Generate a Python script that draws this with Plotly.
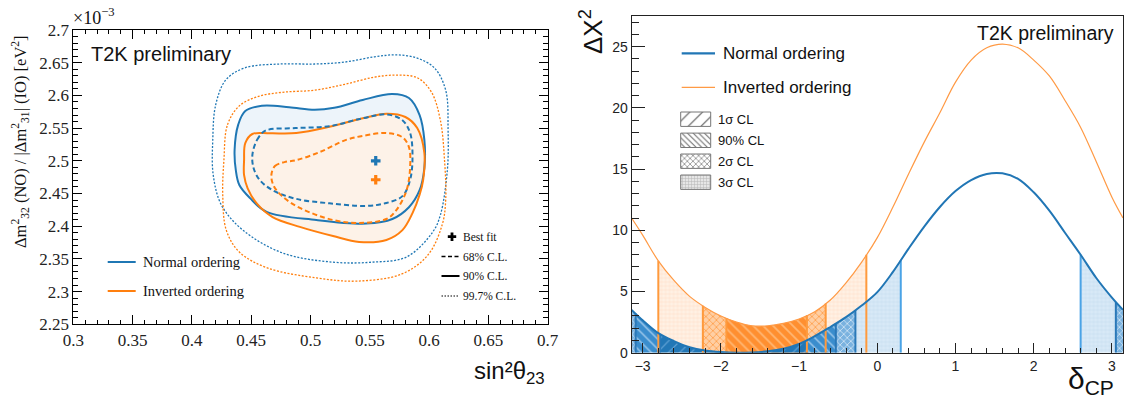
import numpy as np
import plotly.graph_objects as go

W, H = 1124, 400

# ---------------- Left panel data (sin^2 theta23 , dm^2 in 1e-3 eV^2) ----------------
no_997_x = [0.4176, 0.420, 0.4285, 0.4445, 0.474, 0.5035, 0.529, 0.554, 0.5725, 0.590, 0.6045, 0.614,
            0.616, 0.6154, 0.6095, 0.603, 0.581, 0.552, 0.519, 0.4765, 0.443, 0.425, 0.418]
no_997_y = [2.532, 2.585, 2.6235, 2.642, 2.648, 2.648, 2.651, 2.659, 2.662, 2.657, 2.642, 2.608,
            2.547, 2.486, 2.417, 2.391, 2.353, 2.345, 2.345, 2.359, 2.394, 2.432, 2.478]
io_997_x = [0.427, 0.430, 0.440, 0.457, 0.478, 0.5035, 0.529, 0.554, 0.5725, 0.590, 0.602, 0.6095,
            0.613, 0.614, 0.611, 0.599, 0.577, 0.539, 0.505, 0.464, 0.440, 0.429, 0.426]
io_997_y = [2.501, 2.555, 2.584, 2.599, 2.605, 2.608, 2.617, 2.628, 2.631, 2.627, 2.605, 2.562,
            2.501, 2.440, 2.402, 2.356, 2.327, 2.316, 2.321, 2.336, 2.3605, 2.394, 2.448]
no_90_x = [0.436, 0.439, 0.445, 0.459, 0.482, 0.5035, 0.520, 0.544, 0.569, 0.583, 0.592, 0.596,
           0.596, 0.592, 0.583, 0.569, 0.547, 0.505, 0.463, 0.449, 0.440, 0.437]
no_90_y = [2.5165, 2.555, 2.576, 2.584, 2.582, 2.578, 2.581, 2.593, 2.602, 2.596, 2.570, 2.532,
           2.489, 2.455, 2.429, 2.411, 2.404, 2.4095, 2.422, 2.443, 2.463, 2.486]
io_90_x = [0.444, 0.445, 0.451, 0.466, 0.488, 0.516, 0.544, 0.564, 0.580, 0.590, 0.596, 0.595,
           0.592, 0.586, 0.5775, 0.564, 0.541, 0.519, 0.491, 0.468, 0.455, 0.447, 0.444]
io_90_y = [2.501, 2.527, 2.541, 2.542, 2.5425, 2.552, 2.565, 2.572, 2.567, 2.550, 2.512, 2.471,
           2.448, 2.420, 2.394, 2.379, 2.376, 2.385, 2.399, 2.414, 2.434, 2.458, 2.478]
no_68_x = [0.451, 0.455, 0.462, 0.4875, 0.516, 0.544, 0.564, 0.5775, 0.584, 0.586, 0.584, 0.5775,
           0.564, 0.547, 0.516, 0.4875, 0.468, 0.457, 0.452]
no_68_y = [2.509, 2.532, 2.546, 2.550, 2.553, 2.565, 2.571, 2.562, 2.5425, 2.506, 2.471, 2.446,
           2.4355, 2.431, 2.435, 2.442, 2.455, 2.471, 2.489]
io_68_x = [0.467, 0.470, 0.478, 0.488, 0.508, 0.530, 0.547, 0.564, 0.5775, 0.583, 0.584, 0.581,
           0.5725, 0.564, 0.541, 0.519, 0.491, 0.476, 0.469]
io_68_y = [2.478, 2.492, 2.498, 2.501, 2.5135, 2.532, 2.539, 2.5425, 2.536, 2.521, 2.4905, 2.455,
           2.425, 2.411, 2.405, 2.4095, 2.428, 2.446, 2.4615]
bestfit_no = (0.555, 2.500)
bestfit_io = (0.555, 2.471)

left_xticks = [0.3, 0.35, 0.4, 0.45, 0.5, 0.55, 0.6, 0.65, 0.7]
left_xtext = ["0.3", "0.35", "0.4", "0.45", "0.5", "0.55", "0.6", "0.65", "0.7"]
left_yticks = [2.25, 2.3, 2.35, 2.4, 2.45, 2.5, 2.55, 2.6, 2.65, 2.7]
left_ytext = ["2.25", "2.3", "2.35", "2.4", "2.45", "2.5", "2.55", "2.6", "2.65", "2.7"]

# ---------------- Right panel data (delta_CP , delta chi^2) ----------------
delta_cp = [-3.1416, -3.0, -2.8, -2.6, -2.4, -2.2, -2.0, -1.8, -1.6, -1.4, -1.2, -1.0, -0.8, -0.6,
            -0.4, -0.2, 0.0, 0.2, 0.4, 0.6, 0.8, 1.0, 1.2, 1.4, 1.6, 1.8, 2.0, 2.2, 2.4, 2.6, 2.8,
            3.0, 3.1416]
dchi2_no = [3.5, 2.65, 1.6, 0.95, 0.45, 0.18, 0.05, 0.0, 0.02, 0.12, 0.33, 0.72, 1.35, 2.1,
            2.9, 3.85, 4.95, 6.6, 8.5, 10.3, 11.9, 13.2, 14.1, 14.6, 14.65, 14.2, 13.1, 11.6, 9.8,
            8.0, 6.1, 4.5, 3.5]
dchi2_io = [11.0, 9.6, 7.5, 5.9, 4.6, 3.7, 3.0, 2.5, 2.2, 2.2, 2.4, 2.75, 3.35, 4.3,
            5.7, 7.4, 9.4, 11.9, 14.6, 17.2, 19.6, 22.1, 23.9, 24.9, 25.2, 24.9, 23.9, 22.6, 20.6,
            18.4, 15.6, 12.7, 11.0]

no_1sigma = [(-2.78, -0.90)]
no_90cl = [(-3.09, -2.78), (-0.90, -0.53)]
no_2sigma = [(-3.1416, -3.09), (-0.53, -0.28), (3.05, 3.1416)]
no_3sigma = [(-0.28, 0.30), (2.60, 3.05)]
io_90cl = [(-1.93, -0.90)]
io_2sigma = [(-2.23, -1.93), (-0.90, -0.66)]
io_3sigma = [(-2.80, -2.23), (-0.66, -0.14)]

right_xticks = [-3, -2, -1, 0, 1, 2, 3]
right_xtext = ["\u22123", "\u22122", "\u22121", "0", "1", "2", "3"]
right_yticks = [0, 5, 10, 15, 20, 25]

# ---------------- styles ----------------
BLUE = "#1f77b4"
ORANGE = "#ff7f0e"
SANS = "Liberation Sans, Arial, sans-serif"
SERIF = "Liberation Serif, Times New Roman, serif"

fig = go.Figure()


def closed(xs, ys):
    return list(xs) + [xs[0]], list(ys) + [ys[0]]


def contour_fill(xs, ys, fill):
    cx, cy = closed(xs, ys)
    fig.add_trace(go.Scatter(
        x=cx, y=cy, mode="lines", line=dict(width=0, shape="spline", smoothing=1.0, color=fill),
        fill="toself", fillcolor=fill, xaxis="x", yaxis="y", showlegend=False, hoverinfo="skip"))


def contour(xs, ys, color, dash, width):
    cx, cy = closed(xs, ys)
    fig.add_trace(go.Scatter(
        x=cx, y=cy, mode="lines",
        line=dict(color=color, width=width, dash=dash, shape="spline", smoothing=1.0),
        xaxis="x", yaxis="y", showlegend=False, hoverinfo="skip"))


contour_fill(no_90_x, no_90_y, "#edf4fa")
contour_fill(io_90_x, io_90_y, "#fdf2e8")
contour(no_997_x, no_997_y, BLUE, "2px,1.6px", 1.3)
contour(io_997_x, io_997_y, ORANGE, "2px,1.6px", 1.3)
contour(no_90_x, no_90_y, BLUE, "solid", 2)
contour(io_90_x, io_90_y, ORANGE, "solid", 2)
contour(no_68_x, no_68_y, BLUE, "5px,3px", 2)
contour(io_68_x, io_68_y, ORANGE, "5px,3px", 2)
for (bx, by), col in ((bestfit_no, BLUE), (bestfit_io, ORANGE)):
    fig.add_trace(go.Scatter(x=[bx], y=[by], mode="markers",
                             marker=dict(symbol="cross", size=8, color=col, line=dict(width=0)),
                             xaxis="x", yaxis="y", showlegend=False, hoverinfo="skip"))

# ---------------- right panel ----------------
PAT = {
    "no_1sigma": dict(shape="/", bgcolor="#2277b6", fgcolor="#5d9fd3", size=8, solidity=0.15, fillmode="replace"),
    "no_90cl": dict(shape="\\", bgcolor="#3a8dcd", fgcolor="#a3ccec", size=7, solidity=0.2, fillmode="replace"),
    "no_2sigma": dict(shape="x", bgcolor="#7ab2df", fgcolor="#cfe4f5", size=5, solidity=0.3, fillmode="replace"),
    "no_3sigma": dict(shape="+", bgcolor="#d8e9f7", fgcolor="#c0daef", size=4, solidity=0.2, fillmode="replace"),
    "io_90cl": dict(shape="\\", bgcolor="#ff8f30", fgcolor="#ffb774", size=7, solidity=0.25, fillmode="replace"),
    "io_2sigma": dict(shape="x", bgcolor="#ffcfa4", fgcolor="#ff9f4c", size=5, solidity=0.3, fillmode="replace"),
    "io_3sigma": dict(shape="+", bgcolor="#fff1e4", fgcolor="#ffdcc0", size=4, solidity=0.2, fillmode="replace"),
}


def region(intervals, vals, pat):
    for a, b in intervals:
        xs = [a] + [g for g in delta_cp if a < g < b] + [b]
        ys = list(np.interp(xs, delta_cp, vals))
        fig.add_trace(go.Scatter(
            x=xs, y=ys, mode="lines", line=dict(width=0, shape="spline", color=pat["bgcolor"]),
            fill="tozeroy", fillcolor=pat["bgcolor"], fillpattern=pat,
            xaxis="x2", yaxis="y2", showlegend=False, hoverinfo="skip"))


region(io_3sigma, dchi2_io, PAT["io_3sigma"])
region(io_2sigma, dchi2_io, PAT["io_2sigma"])
region(io_90cl, dchi2_io, PAT["io_90cl"])
region(no_3sigma, dchi2_no, PAT["no_3sigma"])
region(no_2sigma, dchi2_no, PAT["no_2sigma"])
region(no_90cl, dchi2_no, PAT["no_90cl"])
region(no_1sigma, dchi2_no, PAT["no_1sigma"])


def edges(groups):
    s = set()
    for g in groups:
        for a, b in g:
            for e in (a, b):
                if abs(e) < 3.14:
                    s.add(e)
    return s


no_edges = edges([no_1sigma, no_90cl, no_2sigma, no_3sigma])
no_outer = edges([no_3sigma]) - edges([no_1sigma, no_90cl, no_2sigma])
io_edges = edges([io_90cl, io_2sigma, io_3sigma])


def edge_lines(es, vals, color, width):
    xs, ys = [], []
    for e in sorted(es):
        xs += [e, e, None]
        ys += [0, float(np.interp(e, delta_cp, vals)), None]
    fig.add_trace(go.Scatter(x=xs, y=ys, mode="lines", line=dict(color=color, width=width),
                             xaxis="x2", yaxis="y2", showlegend=False, hoverinfo="skip"))


edge_lines(no_edges - no_outer, dchi2_no, "#2a78b8", 2)
edge_lines(no_outer, dchi2_no, "#4aa3e6", 2)
edge_lines(io_edges, dchi2_io, "#ff9a3c", 2)

fig.add_trace(go.Scatter(x=delta_cp, y=dchi2_io, mode="lines",
                         line=dict(color="#ff9a45", width=1.2, shape="spline"),
                         xaxis="x2", yaxis="y2", showlegend=False, hoverinfo="skip"))
fig.add_trace(go.Scatter(x=delta_cp, y=dchi2_no, mode="lines",
                         line=dict(color="#2176b5", width=2, shape="spline"),
                         xaxis="x2", yaxis="y2", showlegend=False, hoverinfo="skip"))

# ---------------- legend decorations on an overlay pixel axis ----------------
def seg(x0, x1, y, color, width, dash="solid"):
    fig.add_trace(go.Scatter(x=[x0, x1], y=[y, y], mode="lines",
                             line=dict(color=color, width=width, dash=dash),
                             xaxis="x3", yaxis="y3", showlegend=False, hoverinfo="skip"))


seg(107.7, 135.7, 262, BLUE, 2)
seg(107.7, 135.7, 291, ORANGE, 2)
seg(441.5, 459.5, 256.5, "black", 1.6, "4px,2.5px")
seg(441.5, 459.5, 276, "black", 2)
seg(441.5, 459.5, 296, "black", 1, "1.5px,1.5px")
fig.add_trace(go.Scatter(x=[452], y=[236.7], mode="markers",
                         marker=dict(symbol="cross", size=7, color="black", line=dict(width=0)),
                         xaxis="x3", yaxis="y3", showlegend=False, hoverinfo="skip"))
seg(681.7, 715, 53.3, "#2176b5", 2.2)
seg(681.7, 715, 87.3, "#ff9a45", 1.2)

legend_pats = [
    dict(shape="/", bgcolor="white", fgcolor="#555", size=9, solidity=0.12, fillmode="replace"),
    dict(shape="\\", bgcolor="white", fgcolor="#666", size=4, solidity=0.25, fillmode="replace"),
    dict(shape="x", bgcolor="white", fgcolor="#888", size=4, solidity=0.35, fillmode="replace"),
    dict(shape="+", bgcolor="#e6e6e6", fgcolor="#b5b5b5", size=3, solidity=0.3, fillmode="replace"),
]
legend_labels = ["1\u03c3 CL", "90% CL", "2\u03c3 CL", "3\u03c3 CL"]
legend_rows = [119.2, 140.3, 161.2, 182.2]
for pat, yc in zip(legend_pats, legend_rows):
    fig.add_trace(go.Scatter(x=[680.7, 710.7, 710.7, 680.7, 680.7],
                             y=[yc - 7.2, yc - 7.2, yc + 7.2, yc + 7.2, yc - 7.2],
                             mode="lines", line=dict(color="#777", width=1),
                             fill="toself", fillcolor=pat["bgcolor"], fillpattern=pat,
                             xaxis="x3", yaxis="y3", showlegend=False, hoverinfo="skip"))


def PX(x):
    return x / W


def PY(y):
    return 1 - y / H


ann = []


def text(t, x, y, size, family, xanchor="left", angle=0, color="#111"):
    ann.append(dict(text=t, x=PX(x), y=PY(y), xref="paper", yref="paper", xanchor=xanchor,
                    yanchor="middle", showarrow=False, textangle=angle,
                    font=dict(size=size, family=family, color=color)))


text("T2K preliminary", 89, 54, 20, SANS)
text("\u00d710<sup>\u22123</sup>", 71, 17, 18, SERIF)
text("\u0394m<sup>2</sup><sub>32</sub> (NO) / |\u0394m<sup>2</sup><sub>31</sub>| (IO) [eV<sup>2</sup>]",
     20, 142, 16.5, SERIF, xanchor="center", angle=-90)
text("sin\u00b2\u03b8<sub>23</sub>", 547, 372, 24, SANS, xanchor="right")
text("Normal ordering", 141, 262, 14.5, SERIF)
text("Inverted ordering", 141, 291, 14.5, SERIF)
text("Best fit", 461, 237, 11.5, SERIF)
text("68% C.L.", 461, 256.5, 11.5, SERIF)
text("90% C.L.", 461, 276, 11.5, SERIF)
text("99.7% C.L.", 461, 296, 11.5, SERIF)

text("T2K preliminary", 1116, 33, 19.5, SANS, xanchor="right")
text("\u0394\u03a7<sup>2</sup>", 592, 32, 26, SANS, xanchor="center", angle=-90)
text("\u03b4<sub>CP</sub>", 1116, 380, 30, SANS, xanchor="right")
text("Normal ordering", 721, 53, 17, SANS)
text("Inverted ordering", 721, 87, 17, SANS)
for lab, yc in zip(legend_labels, legend_rows):
    text(lab, 716, yc, 13, SANS)

left_common = dict(showgrid=False, zeroline=False, showline=True, linecolor="black", linewidth=1,
                   mirror="ticks", ticks="inside", tickcolor="black", tickwidth=1, automargin=False,
                   tickfont=dict(family=SERIF, size=17, color="#222"))
right_common = dict(showgrid=False, zeroline=False, showline=True, linecolor="#222", linewidth=1,
                    mirror=True, ticks="inside", tickcolor="#222", tickwidth=1, automargin=False,
                    tickfont=dict(family=SANS, size=14, color="#222"))

fig.update_layout(
    width=W, height=H, autosize=False,
    margin=dict(l=0, r=0, t=0, b=0, pad=0, autoexpand=False),
    paper_bgcolor="white", plot_bgcolor="rgba(0,0,0,0)",
    showlegend=False,
    annotations=ann,
    xaxis=dict(domain=[73.3 / W, 547.7 / W], range=[0.3, 0.7], anchor="y",
               tickmode="array", tickvals=left_xticks, ticktext=left_xtext, ticklen=9,
               minor=dict(ticks="inside", ticklen=4, tick0=0.3, dtick=0.01, tickcolor="black", showgrid=False),
               **left_common),
    yaxis=dict(domain=[1 - 324.3 / H, 1 - 30 / H], range=[2.25, 2.7], anchor="x",
               tickmode="array", tickvals=left_yticks, ticktext=left_ytext, ticklen=9,
               minor=dict(ticks="inside", ticklen=5, tick0=2.25, dtick=0.01, tickcolor="black", showgrid=False),
               **left_common),
    xaxis2=dict(domain=[631.6 / W, 1123 / W], range=[-3.1416, 3.1416], anchor="y2",
                tickmode="array", tickvals=right_xticks, ticktext=right_xtext, ticklen=10,
                minor=dict(ticks="inside", ticklen=5, tick0=0, dtick=0.2, tickcolor="#222", showgrid=False),
                **right_common),
    yaxis2=dict(domain=[1 - 352.7 / H, 1 - 16 / H], range=[0, 27.5], anchor="x2",
                tickmode="array", tickvals=right_yticks, ticklen=13,
                minor=dict(ticks="inside", ticklen=7, tick0=0, dtick=1, tickcolor="#222", showgrid=False),
                **right_common),
    xaxis3=dict(domain=[0, 1], range=[0, W], anchor="y3", visible=False, fixedrange=True, automargin=False),
    yaxis3=dict(domain=[0, 1], range=[H, 0], anchor="x3", visible=False, fixedrange=True, automargin=False),
)

fig.write_html("out.html", config={"displayModeBar": False},
               post_script="document.body.style.margin='0px';document.body.style.overflow='hidden';")
